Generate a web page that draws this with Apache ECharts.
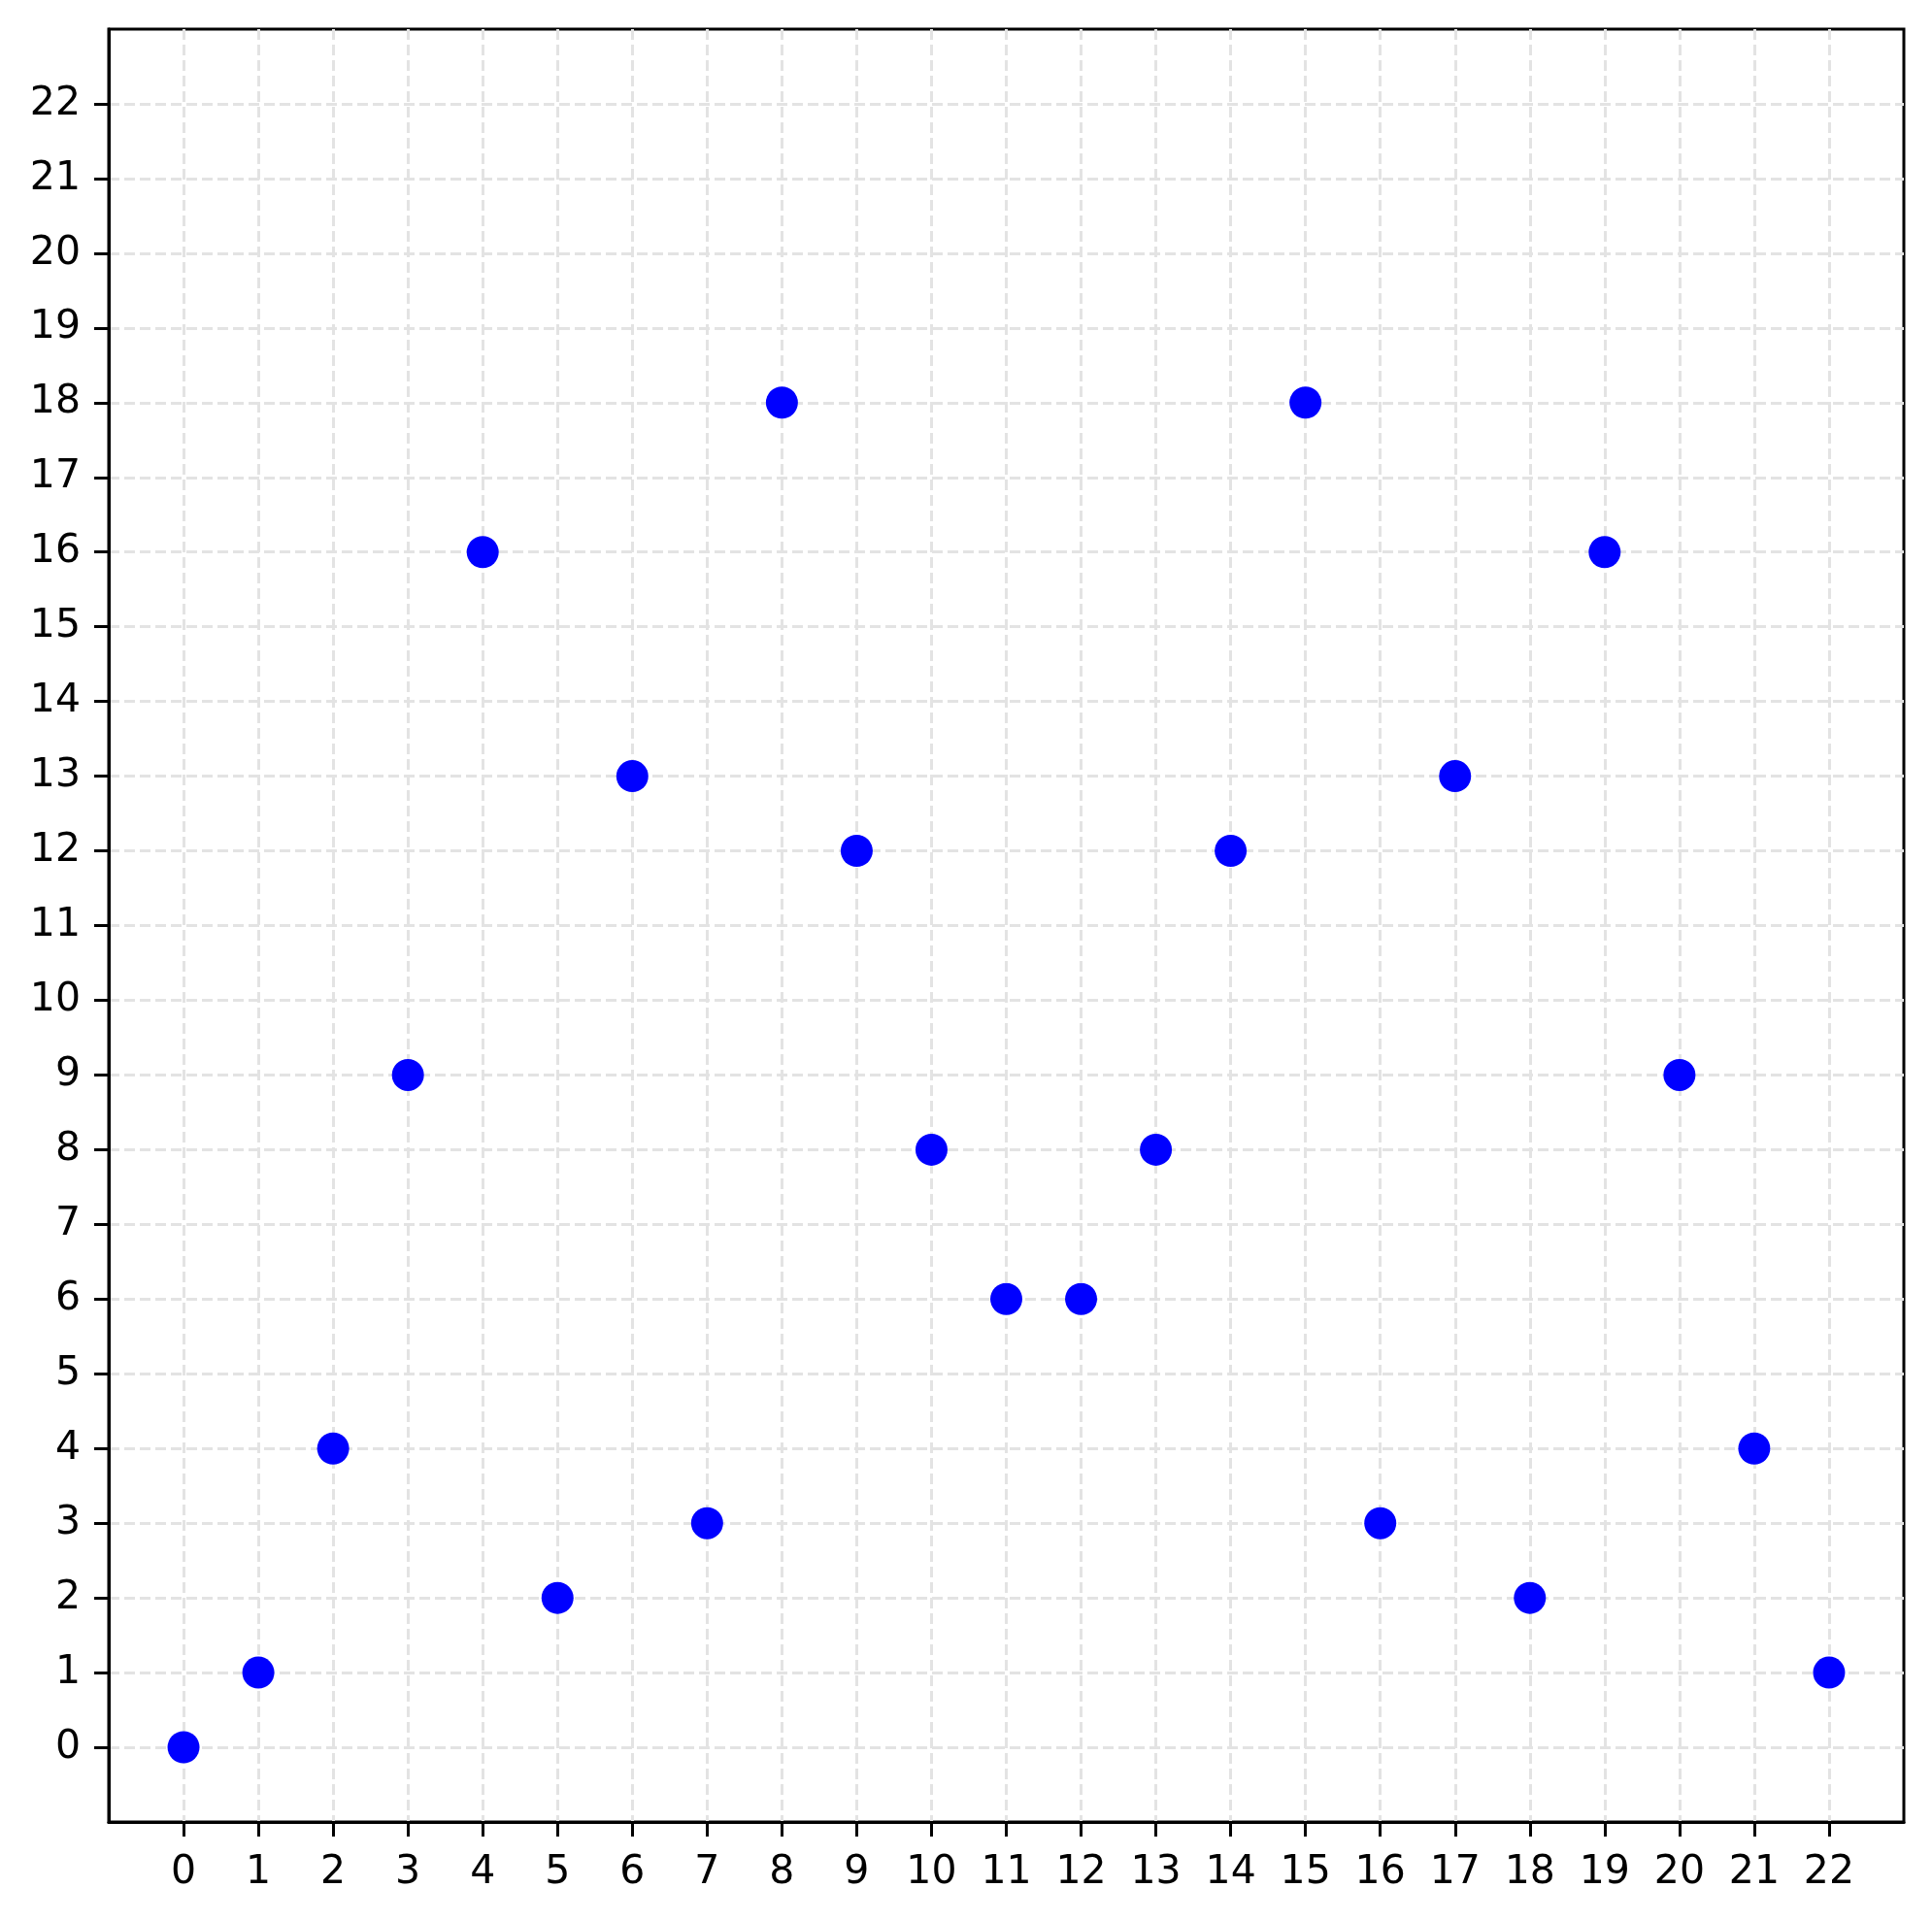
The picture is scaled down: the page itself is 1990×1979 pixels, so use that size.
<!DOCTYPE html>
<html>
<head>
<meta charset="utf-8">
<script src="https://cdn.jsdelivr.net/npm/echarts@6/dist/echarts.min.js"></script>
<style>
  html, body { margin: 0; padding: 0; background: #fff; }
  #chart1 { width: 1990px; height: 1979px; }
</style>
</head>
<body>
<div id="chart1"></div>
<script>
// chart data
const xValues = [0, 1, 2, 3, 4, 5, 6, 7, 8, 9, 10, 11, 12, 13, 14, 15, 16, 17, 18, 19, 20, 21, 22]
const yValues = [0, 1, 4, 9, 16, 2, 13, 3, 18, 12, 8, 6, 6, 8, 12, 18, 3, 13, 2, 16, 9, 4, 1]
const xTicks = [0, 1, 2, 3, 4, 5, 6, 7, 8, 9, 10, 11, 12, 13, 14, 15, 16, 17, 18, 19, 20, 21, 22]
const yTicks = [0, 1, 2, 3, 4, 5, 6, 7, 8, 9, 10, 11, 12, 13, 14, 15, 16, 17, 18, 19, 20, 21, 22]

const chart = echarts.init(document.getElementById('chart1'))

const points = xValues.map((x, i) => [x, yValues[i]])

const gridLine = {
  show: true,
  lineStyle: {
    color: '#e3e3e3',
    width: 3,
    type: [11, 5]
  }
}

chart.setOption({
  backgroundColor: '#fff',
  animation: false,
  textStyle: {
    fontFamily: 'DejaVu Sans'
  },
  grid: {
    left: 112,
    right: 29,
    top: 30,
    bottom: 102,
    show: true,
    borderColor: '#000',
    borderWidth: 3,
    backgroundColor: 'transparent'
  },
  xAxis: {
    type: 'value',
    min: -1,
    max: 23,
    interval: 1,
    axisLine: {
      show: true,
      onZero: false,
      lineStyle: { color: '#000', width: 3 }
    },
    axisTick: {
      show: true,
      length: 15,
      customValues: xTicks,
      lineStyle: { color: '#000', width: 3 }
    },
    axisLabel: {
      customValues: xTicks,
      margin: 32,
      fontSize: 41,
      color: '#000',
      fontFamily: 'DejaVu Sans'
    },
    splitLine: gridLine
  },
  yAxis: {
    type: 'value',
    min: -1,
    max: 23,
    interval: 1,
    axisLine: {
      show: true,
      onZero: false,
      lineStyle: { color: '#000', width: 3 }
    },
    axisTick: {
      show: true,
      length: 15,
      customValues: yTicks,
      lineStyle: { color: '#000', width: 3 }
    },
    axisLabel: {
      customValues: yTicks,
      margin: 29,
      fontSize: 41,
      color: '#000',
      fontFamily: 'DejaVu Sans'
    },
    splitLine: gridLine
  },
  series: [{
    type: 'scatter',
    symbol: 'circle',
    symbolSize: 33,
    itemStyle: {
      color: '#0000ff',
      opacity: 1
    },
    data: points
  }]
})
</script>
</body>
</html>
